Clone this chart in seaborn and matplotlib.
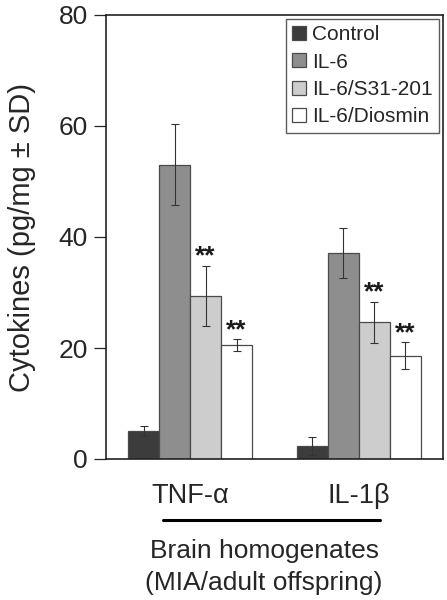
import numpy as np
import pandas as pd
import seaborn as sns
import matplotlib.pyplot as plt
from matplotlib.lines import Line2D

sns.set_style('white')
plt.rcParams['font.family'] = ['Liberation Sans', 'DejaVu Sans']

cytokines = ["TNF-\u03b1", "IL-1\u03b2"]
groups = ["Control", "IL-6", "IL-6/S31-201", "IL-6/Diosmin"]
# mean and SD, one list per group, in cytokine order
control_mean = [5.1, 2.4]
control_sd = [0.9, 1.6]
il6_mean = [53.0, 37.2]
il6_sd = [7.3, 4.5]
s31_mean = [29.4, 24.6]
s31_sd = [5.4, 3.7]
dios_mean = [20.5, 18.6]
dios_sd = [1.1, 2.4]
stars = ["", "", "**", "**"]

colors = ["#3c3c3c", "#8e8e8e", "#cdcdcd", "#ffffff"]

means = [control_mean, il6_mean, s31_mean, dios_mean]
sds = [control_sd, il6_sd, s31_sd, dios_sd]
rows = []
for g, m, s in zip(groups, means, sds):
    for c, mv, sv in zip(cytokines, m, s):
        rows.append({'cytokine': c, 'group': g, 'mean': mv, 'sd': sv})
df = pd.DataFrame(rows)

fig, ax = plt.subplots(figsize=(4.47, 6.0), dpi=100)
fig.subplots_adjust(left=0.237, right=0.991, top=0.975, bottom=0.235)

width = 0.735
sns.barplot(data=df, x='cytokine', y='mean', hue='group', order=cytokines,
            hue_order=groups, palette=colors, width=width, errorbar=None,
            edgecolor='#4a4a4a', linewidth=0.9, legend=False, ax=ax)

bw = width / len(groups)
for gi, g in enumerate(groups):
    sub = df[df.group == g]
    x = np.arange(len(cytokines)) - width / 2 + bw * (gi + 0.5)
    ax.errorbar(x, sub['mean'], yerr=sub['sd'], fmt='none', ecolor='#333333',
                elinewidth=0.8, capsize=3, capthick=0.8)
    if stars[gi]:
        for xi, (mv, sv) in zip(x, zip(sub['mean'], sub['sd'])):
            ax.text(xi, mv + sv + 0.4, stars[gi], ha='center',
                    va='baseline', fontsize=19, fontweight='bold',
                    color='#1a1a1a')

ax.set_xlim(-0.5, 1.5)
ax.set_ylim(0, 80)
ax.set_yticks([0, 20, 40, 60, 80])
ax.tick_params(axis='y', direction='out', length=9, width=0.9, labelsize=19,
               left=True, pad=4)
ax.tick_params(axis='x', length=0, labelsize=19.5, pad=17)
ax.set_xlabel("")
ax.set_ylabel("Cytokines (pg/mg \u00b1 SD)", fontsize=21, labelpad=16)
for sp in ax.spines.values():
    sp.set_color('#222222')
    sp.set_linewidth(1.2)

handles = [plt.Rectangle((0, 0), 1, 1, facecolor=c, edgecolor='#4a4a4a',
                         linewidth=0.9) for c in colors]
leg = ax.legend(handles, groups, loc='upper right', fontsize=15,
                frameon=True, fancybox=False, handlelength=0.65,
                handleheight=0.65, handletextpad=0.3, borderpad=0.3,
                labelspacing=0.4, borderaxespad=0.2)
leg.get_frame().set_edgecolor('#333333')
leg.get_frame().set_linewidth(1.0)

fig.add_artist(Line2D([163 / 447, 380 / 447], [1 - 520 / 600, 1 - 520 / 600],
                      color='black', linewidth=2.2))
fig.text(264 / 447, 1 - 551 / 600, "Brain homogenates", ha='center',
         va='center', fontsize=19)
fig.text(264 / 447, 1 - 583 / 600, "(MIA/adult offspring)", ha='center',
         va='center', fontsize=19)

plt.savefig('out.png', dpi=100)
